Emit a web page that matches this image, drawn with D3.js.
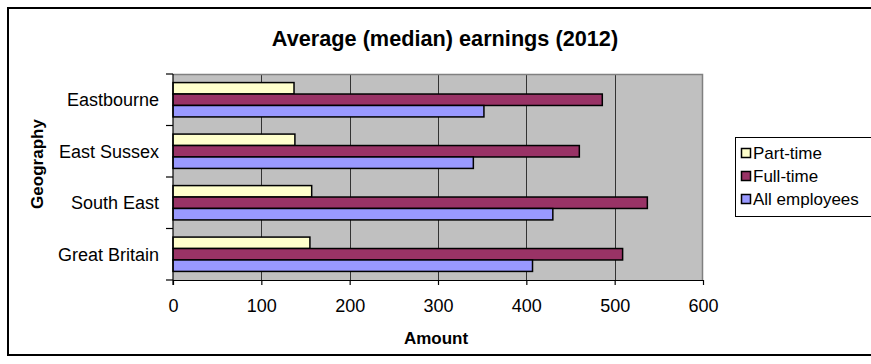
<!DOCTYPE html>
<html>
<head>
<meta charset="utf-8">
<script src="https://cdn.jsdelivr.net/npm/d3@7"></script>
<style>
  html, body { margin: 0; padding: 0; background: #fff; }
  svg { display: block; font-family: "Liberation Sans", Arial, sans-serif; }
</style>
</head>
<body>
<svg id="chart" width="871" height="364"></svg>
<script>
// Geography categories, top to bottom
const categories = ["Eastbourne", "East Sussex", "South East", "Great Britain"];
// Series, in the order they sit inside each group (top to bottom)
const seriesNames = ["Part-time", "Full-time", "All employees"];
const partTime = [137, 138, 157, 155];
const fullTime = [486, 460, 537, 509];
const allEmployees = [352, 340, 430, 407];
const seriesColors = ["#FFFFCC", "#993366", "#9999FF"];
const xTicks = [0, 100, 200, 300, 400, 500, 600];

const seriesValues = [partTime, fullTime, allEmployees];

const svg = d3.select("#chart");
const W = 871, H = 364;

svg.append("rect").attr("width", W).attr("height", H).attr("fill", "#fff");

// outer chart frame
svg.append("rect")
  .attr("x", 8).attr("y", 8).attr("width", 890).attr("height", 347)
  .attr("fill", "none").attr("stroke", "#000").attr("stroke-width", 2);

const plot = { left: 173, top: 74, right: 703, bottom: 280 };

const x = d3.scaleLinear().domain([0, 600]).range([plot.left, plot.right]);
const y = d3.scaleBand().domain(categories).range([plot.top, plot.bottom]).paddingInner(0.3333).paddingOuter(0.1667);
const ySub = d3.scaleBand().domain(seriesNames).range([0, y.bandwidth()]);

// plot background
svg.append("rect")
  .attr("x", plot.left).attr("y", plot.top)
  .attr("width", plot.right - plot.left).attr("height", plot.bottom - plot.top)
  .attr("fill", "#C0C0C0");

// vertical gridlines
svg.append("g").selectAll("line")
  .data(xTicks.filter(d => d > 0 && d < 600))
  .join("line")
  .attr("x1", d => Math.round(x(d)) + 0.5).attr("x2", d => Math.round(x(d)) + 0.5)
  .attr("y1", plot.top).attr("y2", plot.bottom)
  .attr("stroke", "#333").attr("stroke-width", 1);

// plot border (top, right)
svg.append("path")
  .attr("d", `M${plot.left},${plot.top + 0.5}H${plot.right - 0.5}V${plot.bottom}`)
  .attr("fill", "none").attr("stroke", "#808080").attr("stroke-width", 1.5);

// bars
const rows = [];
categories.forEach((c, i) => {
  seriesNames.forEach((s, j) => {
    rows.push({ cat: c, series: s, value: seriesValues[j][i], color: seriesColors[j] });
  });
});

svg.append("g").selectAll("rect")
  .data(rows)
  .join("rect")
  .attr("x", x(0))
  .attr("y", d => y(d.cat) + ySub(d.series))
  .attr("width", d => x(d.value) - x(0))
  .attr("height", ySub.bandwidth())
  .attr("fill", d => d.color)
  .attr("stroke", "#000").attr("stroke-width", 1.5);

// x axis
const xAxis = d3.axisBottom(x).tickValues(xTicks).tickSize(5).tickPadding(14).tickSizeOuter(0);
const gx = svg.append("g").attr("transform", `translate(0,${plot.bottom})`).call(xAxis);
gx.select(".domain").attr("stroke", "#000").attr("stroke-width", 1.2);
gx.selectAll(".tick line").attr("stroke", "#000").attr("stroke-width", 1.2);
gx.selectAll(".tick text").attr("font-size", 18).attr("fill", "#000")
  .attr("font-family", "Liberation Sans, Arial, sans-serif");

// y axis: ticks at group boundaries
const boundaries = categories.map(c => y(c) - y.step() * y.paddingInner() / 2).concat([plot.bottom]);
const gy = svg.append("g");
gy.append("line")
  .attr("x1", plot.left).attr("x2", plot.left)
  .attr("y1", plot.top).attr("y2", plot.bottom + 5)
  .attr("stroke", "#000").attr("stroke-width", 1.2);
gy.selectAll("line.tk")
  .data(boundaries)
  .join("line").attr("class", "tk")
  .attr("x1", plot.left - 7).attr("x2", plot.left)
  .attr("y1", d => d).attr("y2", d => d)
  .attr("stroke", "#000").attr("stroke-width", 1.2);
gy.selectAll("text")
  .data(categories)
  .join("text")
  .attr("x", plot.left - 14)
  .attr("y", d => y(d) + y.bandwidth() / 2)
  .attr("dy", "0.35em")
  .attr("text-anchor", "end")
  .attr("font-size", 18)
  .text(d => d);

// title
svg.append("text")
  .attr("x", 445).attr("y", 38).attr("dy", "0.35em")
  .attr("text-anchor", "middle")
  .attr("font-size", 21.7).attr("font-weight", "bold")
  .text("Average (median) earnings (2012)");

// axis titles
svg.append("text")
  .attr("x", 436).attr("y", 338).attr("dy", "0.35em")
  .attr("text-anchor", "middle")
  .attr("font-size", 17).attr("font-weight", "bold")
  .text("Amount");

svg.append("text")
  .attr("transform", "translate(37,164) rotate(-90)")
  .attr("dy", "0.35em")
  .attr("text-anchor", "middle")
  .attr("font-size", 17).attr("font-weight", "bold")
  .text("Geography");

// legend
const legend = svg.append("g");
legend.append("rect")
  .attr("x", 735.5).attr("y", 137.5).attr("width", 200).attr("height", 79)
  .attr("fill", "#fff").attr("stroke", "#000").attr("stroke-width", 1);
const li = legend.selectAll("g.item")
  .data(seriesNames)
  .join("g").attr("class", "item")
  .attr("transform", (d, i) => `translate(741,${153 + i * 23})`);
li.append("rect")
  .attr("x", 0.5).attr("y", -4.5).attr("width", 9).attr("height", 9)
  .attr("fill", (d, i) => seriesColors[i])
  .attr("stroke", "#000").attr("stroke-width", 1.5);
li.append("text")
  .attr("x", 12).attr("dy", "0.35em")
  .attr("font-size", 17)
  .text(d => d);
</script>
</body>
</html>
